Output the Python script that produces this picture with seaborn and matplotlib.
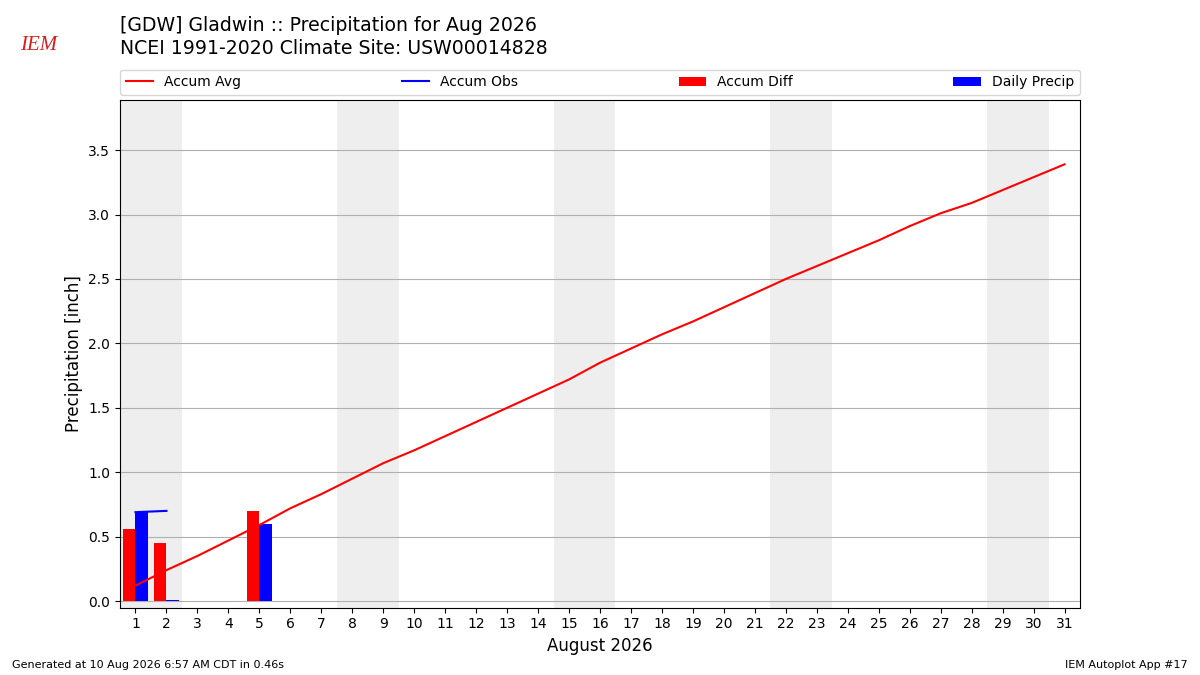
import numpy as np
import pandas as pd
import matplotlib
matplotlib.use("Agg")
import matplotlib.pyplot as plt
import seaborn as sns

# values
days = list(range(1, 32))
accum_avg = [0.12, 0.24, 0.35, 0.47, 0.59, 0.72, 0.83, 0.95, 1.07, 1.17,
             1.28, 1.39, 1.50, 1.61, 1.72, 1.85, 1.96, 2.07, 2.17, 2.28,
             2.39, 2.50, 2.60, 2.70, 2.80, 2.91, 3.01, 3.09, 3.19, 3.29, 3.39]
obs_days = [1, 2]
accum_obs = [0.69, 0.70]
bar_days = [1, 2, 5]
accum_diff = [0.56, 0.45, 0.70]
daily_precip = [0.69, 0.01, 0.60]
weekend_starts = [1, 8, 15, 22, 29]

avg_df = pd.DataFrame({"day": days, "precip": accum_avg})
obs_df = pd.DataFrame({"day": obs_days, "precip": accum_obs})

# stick with the plain matplotlib look, seaborn only draws the lines
plt.rcParams['font.family'] = ['DejaVu Sans']

fig = plt.figure(figsize=(12, 6.75), dpi=100)
ax = fig.add_axes([0.1, 0.1, 0.8, 0.752])

# weekend shading
for d in weekend_starts:
    ax.axvspan(d - 0.5, d + 1.5, color="#EEEEEE", zorder=0, lw=0)

sns.lineplot(data=avg_df, x="day", y="precip", color="red", lw=1.5,
             label="Accum Avg", ax=ax, zorder=3)
sns.lineplot(data=obs_df, x="day", y="precip", color="blue", lw=1.5,
             label="Accum Obs", ax=ax, zorder=3)
bd = np.array(bar_days)
ax.bar(bd - 0.2, accum_diff, width=0.4, color="red", lw=0, label="Accum Diff", zorder=2)
ax.bar(bd + 0.2, daily_precip, width=0.4, color="blue", lw=0, label="Daily Precip", zorder=2)

ax.set_xlim(0.5, 31.5)
ax.set_ylim(-0.05, 3.89)
ax.set_xticks(days)
ax.set_yticks(np.arange(0, 3.6, 0.5))
ax.yaxis.grid(True, color="#b0b0b0", lw=0.8)
ax.set_axisbelow(True)
ax.tick_params(labelsize=10)
ax.set_xlabel("August 2026", fontsize=12)
ax.set_ylabel("Precipitation [inch]", fontsize=12)

ax.legend(loc="lower left", bbox_to_anchor=(0, 1.01, 1, 0.05), ncol=4,
          mode="expand", borderaxespad=0, fontsize=10, frameon=True)

fig.text(0.1, 0.976, "[GDW] Gladwin :: Precipitation for Aug 2026\n"
         "NCEI 1991-2020 Climate Site: USW00014828",
         fontsize=13.6, va="top", ha="left", linespacing=1.25)
fig.text(0.01, 0.01, "Generated at 10 Aug 2026 6:57 AM CDT in 0.46s", fontsize=8)
fig.text(0.99, 0.01, "IEM Autoplot App #17", fontsize=8, ha="right")
fig.text(0.032, 0.933, "IEM", fontsize=15, color="#d42020", style="italic",
         family="Liberation Serif", ha="center", va="center")

fig.savefig("out.png", dpi=100)
